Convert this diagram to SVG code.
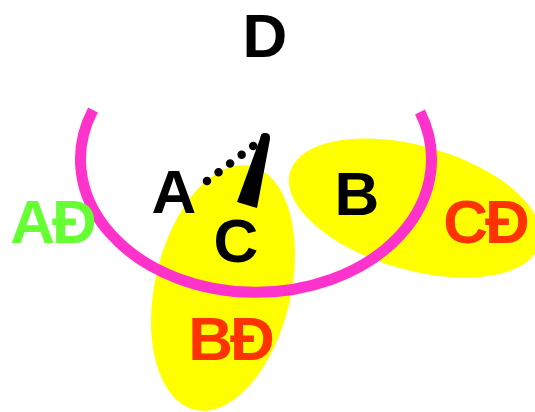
<svg xmlns="http://www.w3.org/2000/svg" width="535" height="412" viewBox="0 0 535 412">
  <style>
    .lbl { font-family: "Liberation Sans", Arial, sans-serif; font-weight: bold; font-size: 62px; text-anchor: middle; }
    .blk { fill: #000000; }
    .grn { fill: #66FF33; }
    .red { fill: #FF3300; }
    .zone { fill: #FFFF00; }
  </style>
  <rect width="535" height="412" fill="#FFFFFF"/>

  <!-- yellow regions -->
  <g id="region-right">
    <ellipse class="zone" cx="0" cy="0" rx="130" ry="62" transform="translate(415 208) rotate(16)"/>
  </g>
  <g id="region-lower">
    <ellipse class="zone" cx="0" cy="0" rx="68" ry="125" transform="translate(223 288) rotate(13)"/>
  </g>

  <!-- magenta arc -->
  <g id="arc-D">
    <path d="M 93 110 A 175.5 133 0 1 0 420 112" fill="none" stroke="#FF33CC" stroke-width="11"/>
  </g>

  <!-- connectors -->
  <g id="connectors">
    <line x1="207" y1="181" x2="265" y2="137" stroke="#000" stroke-width="8.5" stroke-linecap="round" stroke-dasharray="0 14.5"/>
    <polygon points="237,202 257,208 270,139 261,136" fill="#000"/>
    <circle cx="265.5" cy="137.5" r="4.6" fill="#000"/>
  </g>

  <!-- labels -->
  <g id="node-D"><text class="lbl blk" x="265" y="57">D</text></g>
  <g id="node-A"><text class="lbl blk" x="174" y="213">A</text></g>
  <g id="node-B"><text class="lbl blk" x="357" y="215">B</text></g>
  <g id="node-C"><text class="lbl blk" x="236" y="262">C</text></g>
  <g id="node-AD"><text class="lbl grn" x="52" y="243" letter-spacing="-3">AĐ</text></g>
  <g id="node-BD"><text class="lbl red" x="230" y="360" letter-spacing="-3">BĐ</text></g>
  <g id="node-CD"><text class="lbl red" x="485" y="243" letter-spacing="-3">CĐ</text></g>
</svg>
